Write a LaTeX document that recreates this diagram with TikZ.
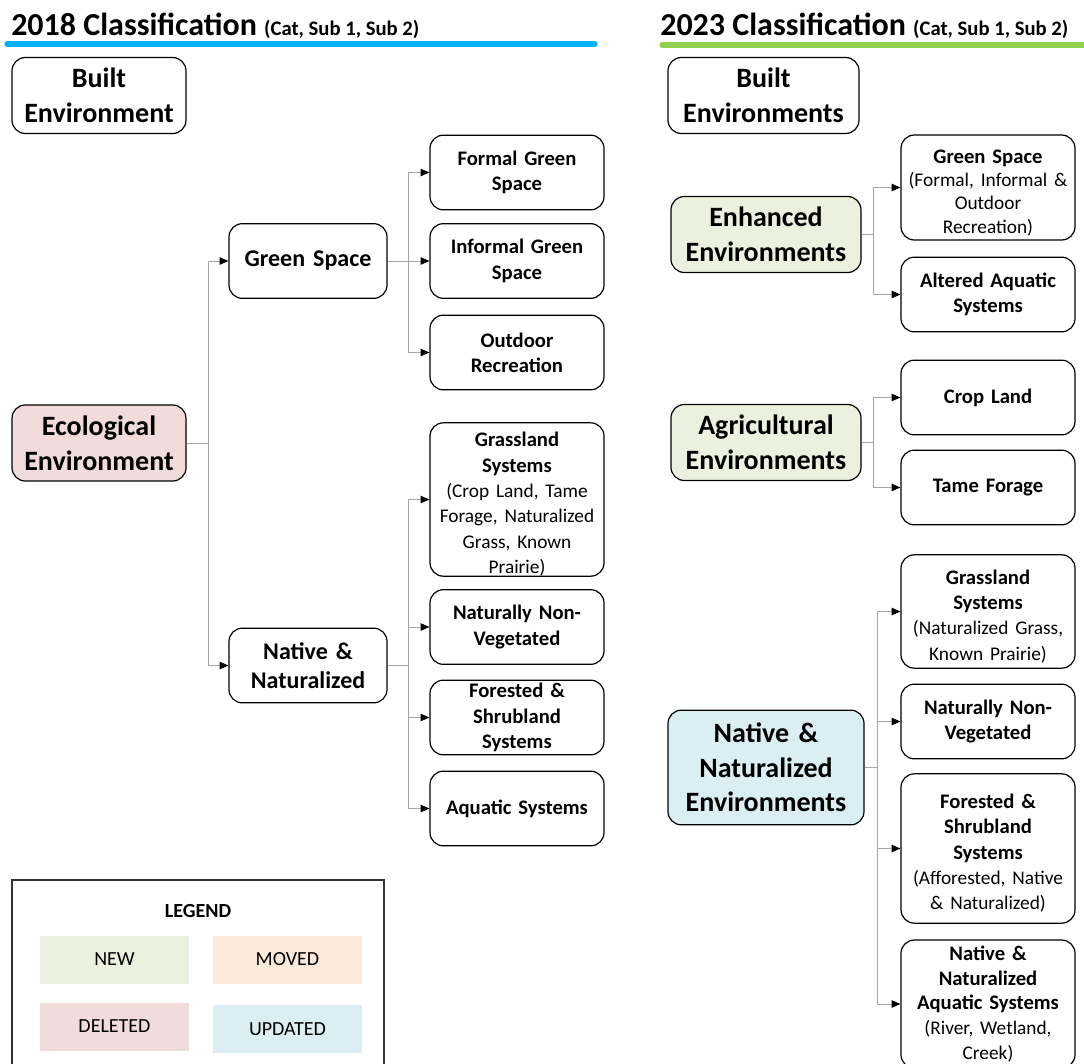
\documentclass[tikz,border=0pt]{standalone}
\usepackage{fontspec}
\setmainfont{Carlito}
\usetikzlibrary{arrows.meta}

\definecolor{newgreen}{HTML}{EBF1DE}
\definecolor{movedorange}{HTML}{FDE9D9}
\definecolor{deletedpink}{HTML}{F2DCDB}
\definecolor{updatedblue}{HTML}{DAEEF3}
\definecolor{linegray}{HTML}{A6A6A6}
\definecolor{line2018}{HTML}{00B0F0}
\definecolor{line2023}{HTML}{92D050}

\newcommand{\paren}{\mdseries\fontsize{14.5}{\baselineskip}\selectfont}

\begin{document}
\begin{tikzpicture}[x=0.75pt,y=-0.75pt,
    box/.style={draw,rounded corners=10pt,line width=0.9pt,align=center,inner sep=0pt},
    cat/.style={box,font=\bfseries\fontsize{21}{26}\selectfont,minimum width=130.5pt,minimum height=57pt,text width=125pt},
    subone/.style={box,font=\bfseries\fontsize{18}{22}\selectfont,minimum width=118.5pt,minimum height=56pt,text width=115pt},
    subtwo/.style={box,font=\bfseries\fontsize{15.5}{19}\selectfont,minimum width=130.5pt,minimum height=56pt,text width=125pt},
    lower/.style={text height=18pt},
    link/.style={draw=linegray,line width=0.6pt},
    arr/.style={link,-{Triangle[length=6.5pt,width=5.5pt,color=black]}},
    patch/.style={minimum width=111.75pt,minimum height=36pt,inner sep=0pt,font=\fontsize{15}{18}\selectfont},
    title/.style={anchor=base west,inner sep=0pt,font=\bfseries\fontsize{24}{28}\selectfont}]
  \useasboundingbox (0,0) rectangle (1084,1063);

  % titles
  \node[title] (title18) at (11,36) {2018 Classification {\fontsize{15.5}{18}\selectfont(Cat, Sub 1, Sub 2)}};
  \node[title] (title23) at (660,36) {2023 Classification {\fontsize{15.5}{18}\selectfont(Cat, Sub 1, Sub 2)}};
  \draw[line2018,line width=3.9pt,line cap=round] (7,44) -- (595,44);
  \draw[line2023,line width=3.9pt,line cap=round] (662,45) -- (1090,45);

  % 2018
  \node[cat] (built18) at (99,95.5) {Built\\Environment};
  \node[cat,fill=deletedpink] (eco) at (99,443) {Ecological\\Environment};
  \node[subone] (gs18) at (308,261) {Green Space};
  \node[subone] (nat18) at (308,665.5) {Native \&\\Naturalized};
  \node[subtwo] (formal) at (517,172.5) {Formal Green\\Space};
  \node[subtwo] (informal) at (517,261) {Informal Green\\Space};
  \node[subtwo] (outdoor) at (517,352.5) {Outdoor\\Recreation};
  \node[subtwo,lower,minimum height=112pt] (grass18) at (517,499.5)
    {Grassland\\Systems\\{\paren(Crop Land, Tame\\Forage, Naturalized\\Grass, Known\\Prairie)}};
  \node[subtwo] (nonveg18) at (517,627) {Naturally Non-\\Vegetated};
  \node[subtwo] (forest18) at (517,717.5) {Forested \&\\Shrubland\\Systems};
  \node[subtwo] (aquatic18) at (517,808.5) {Aquatic Systems};

  \draw[link] (eco.east) -- ++(22,0) coordinate (jeco);
  \draw[arr] (jeco) |- (gs18.west);
  \draw[arr] (jeco) |- (nat18.west);
  \draw[link] (gs18.east) -- ++(21,0) coordinate (jgs);
  \foreach \c in {formal,informal,outdoor}
    \draw[arr] (jgs) |- (\c.west);
  \draw[link] (nat18.east) -- ++(21,0) coordinate (jnat);
  \foreach \c in {grass18,nonveg18,forest18,aquatic18}
    \draw[arr] (jnat) |- (\c.west);

  % 2023
  \node[cat,minimum width=143.25pt] (built23) at (763.5,95.5) {Built\\Environments};
  \node[cat,fill=newgreen,minimum width=142.5pt] (enh) at (766,234.5) {Enhanced\\Environments};
  \node[subtwo,lower,minimum height=78.75pt,font=\bfseries\fontsize{15.5}{17.5}\selectfont] (gs23) at (988,187.5)
    {Green Space\\{\paren(Formal, Informal \&\\Outdoor\\Recreation)}};
  \node[subtwo] (altered) at (988,294.5) {Altered Aquatic\\Systems};
  \node[cat,fill=newgreen,minimum width=142.5pt] (agri) at (766,442.5) {Agricultural\\Environments};
  \node[subtwo] (crop) at (988,397.5) {Crop Land};
  \node[subtwo] (tame) at (988,487.5) {Tame Forage};
  \node[cat,fill=updatedblue,minimum width=147pt,minimum height=86pt] (nat23) at (766,767.5)
    {Native \&\\Naturalized\\Environments};
  \node[subtwo,lower,minimum height=85pt] (grass23) at (988,611.5)
    {Grassland\\Systems\\{\paren(Naturalized Grass,\\Known Prairie)}};
  \node[subtwo] (nonveg23) at (988,721.5) {Naturally Non-\\Vegetated};
  \node[subtwo,lower,minimum height=112pt] (forest23) at (988,848.5)
    {Forested \&\\Shrubland\\Systems\\{\paren(Afforested, Native\\\& Naturalized)}};
  \node[subtwo,minimum height=96pt,font=\bfseries\fontsize{15.5}{18.5}\selectfont] (aquatic23) at (988,1004)
    {Native \&\\Naturalized\\Aquatic Systems\\{\paren(River, Wetland,\\Creek)}};

  \draw[link] (enh.east) -- ++(12,0) coordinate (jenh);
  \foreach \c in {gs23,altered}
    \draw[arr] (jenh) |- (\c.west);
  \draw[link] (agri.east) -- ++(12,0) coordinate (jagri);
  \foreach \c in {crop,tame}
    \draw[arr] (jagri) |- (\c.west);
  \draw[link] (nat23.east) -- ++(13,0) coordinate (jnat23);
  \foreach \c in {grass23,nonveg23,forest23,aquatic23}
    \draw[arr] (jnat23) |- (\c.west);

  % legend
  \draw[line width=0.9pt,draw=black!80] (12,1070) |- (384,880) -- (384,1070);
  \node[font=\bfseries\fontsize{15}{18}\selectfont] (legend) at (198,911) {LEGEND};
  \node[patch,fill=newgreen] (new) at (114.5,959.5) {NEW};
  \node[patch,fill=movedorange] (moved) at (287.5,959.5) {MOVED};
  \node[patch,fill=deletedpink] (deleted) at (114.5,1026.5) {DELETED};
  \node[patch,fill=updatedblue] (updated) at (287.5,1029) {UPDATED};
\end{tikzpicture}
\end{document}
